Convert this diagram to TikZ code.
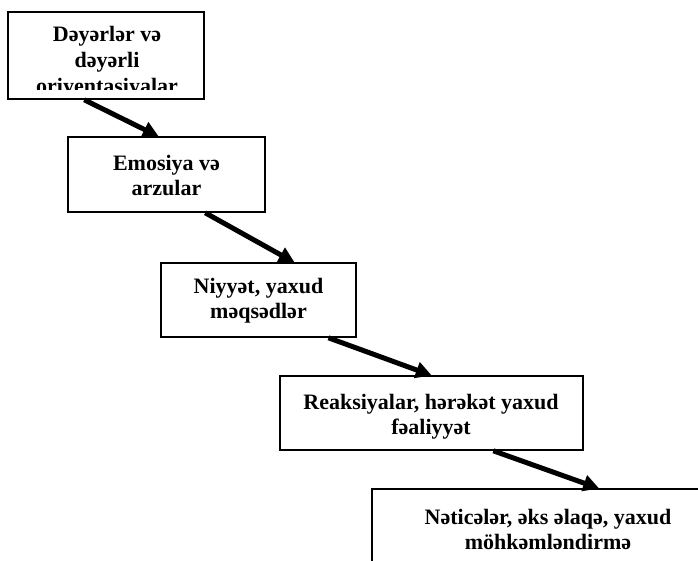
\documentclass[tikz,border=0pt]{standalone}
\usepackage{fontspec}
\setmainfont{Liberation Serif}
\usetikzlibrary{arrows.meta,calc}

\tikzset{
  stagebox/.style={draw=black, line width=1.6pt, fill=white, inner sep=0pt},
  stagetext/.style={font=\bfseries\fontsize{22}{25}\selectfont, align=center, inner sep=0pt},
  flowarrow/.style={line width=5pt, -{Triangle[length=16pt,width=16pt]}, shorten >=-1pt},
}

\begin{document}
\begin{tikzpicture}[x=1pt, y=-1pt]
  \useasboundingbox (0,0) rectangle (698,560);
  \clip (0,0) rectangle (698,560);

  % stage boxes
  \node[stagebox, minimum width=196pt, minimum height=87pt] (b1) at (106,55.5) {};
  \node[stagebox, minimum width=197pt, minimum height=75pt] (b2) at (166.5,174.5) {};
  \node[stagebox, minimum width=195pt, minimum height=74pt] (b3) at (258.5,300) {};
  \node[stagebox, minimum width=303pt, minimum height=74pt] (b4) at (431.5,413) {};
  \node[stagebox, minimum width=350pt, minimum height=76pt] (b5) at (547,527) {};

  % labels (the first one runs past the text area of its box and is cut off)
  \begin{scope}
    \clip ($(b1.south west)+(1,-10)$) rectangle ($(b1.north east)+(-1,2)$);
    \node[stagetext, font=\bfseries\fontsize{22}{26}\selectfont] (t1) at (107,62) {Dəyərlər və\\dəyərli\\oriyentasiyalar};
  \end{scope}
  \node[stagetext] (t2) at (166.5,175) {Emosiya və\\arzular};
  \node[stagetext] (t3) at (258.5,300.5) {Niyyət, yaxud\\məqsədlər};
  \node[stagetext] (t4) at (431,417) {Reaksiyalar, hərəkət yaxud\\fəaliyyət};
  \node[stagetext] (t5) at (548,529) {Nəticələr, əks əlaqə, yaxud\\möhkəmləndirmə};

  % connectors
  \draw[flowarrow] ($(b1.south west)!0.39!(b1.south east)$) -- ($(b2.north west)!0.457!(b2.north east)$);
  \draw[flowarrow] ($(b2.south west)!0.695!(b2.south east)$) -- ($(b3.north west)!0.68!(b3.north east)$);
  \draw[flowarrow] ($(b3.south west)!0.856!(b3.south east)$) -- ($(b4.north west)!0.498!(b4.north east)$);
  \draw[flowarrow] ($(b4.south west)!0.703!(b4.south east)$) -- ($(b5.north west)!0.646!(b5.north east)$);
\end{tikzpicture}
\end{document}
